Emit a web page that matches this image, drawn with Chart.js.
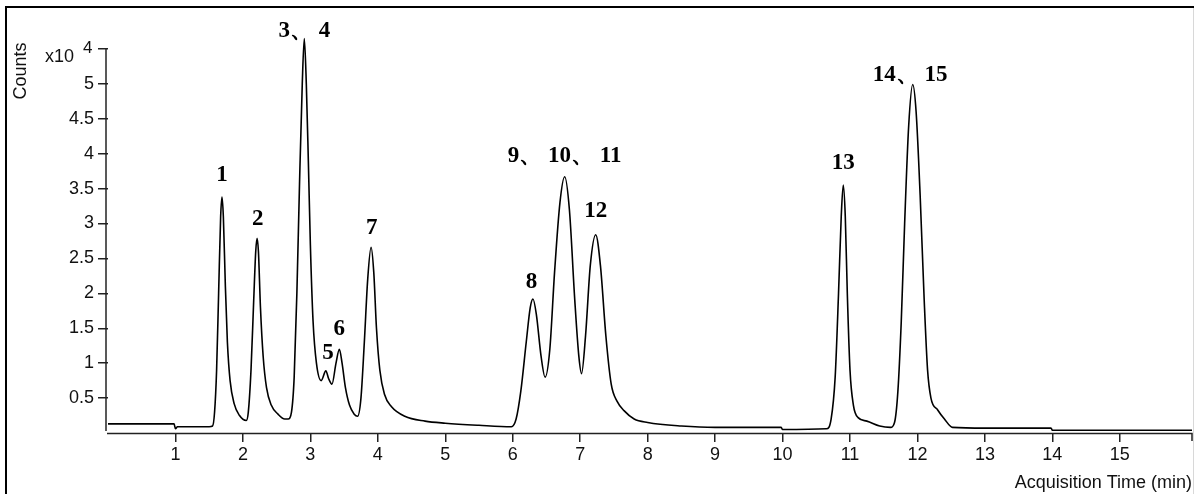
<!DOCTYPE html>
<html>
<head>
<meta charset="utf-8">
<script src="https://cdn.jsdelivr.net/npm/chart.js@4.4.1/dist/chart.umd.min.js"></script>
<style>
  html, body { margin: 0; padding: 0; background: #fff; }
  #wrap { position: relative; width: 1195px; height: 494px; }
</style>
</head>
<body>
<div id="wrap"><canvas id="chrom" width="1195" height="494"></canvas></div>
<script>
// retention time (min) and counts (x10^4)
const times = [
  0, 0.98, 1.0, 1.03, 1.5,
  1.55, 1.58, 1.61, 1.64, 1.67, 1.69, 1.71, 1.74, 1.77, 1.81, 1.87, 1.95, 2.05,
  2.08, 2.12, 2.16, 2.19, 2.21, 2.23, 2.26, 2.30, 2.35, 2.42, 2.52, 2.62, 2.67,
  2.72, 2.76, 2.80, 2.84, 2.88, 2.91, 2.94, 2.97, 3.00, 3.04, 3.09, 3.16,
  3.23, 3.27, 3.32, 3.38, 3.43, 3.47, 3.52, 3.58, 3.65, 3.70,
  3.75, 3.80, 3.85, 3.90, 3.94, 3.98, 4.03, 4.10, 4.2, 4.4, 4.7, 5.0, 5.5, 5.98,
  6.05, 6.12, 6.20, 6.26, 6.30, 6.35, 6.42, 6.48, 6.55, 6.62, 6.70, 6.77, 6.84,
  6.92, 6.98, 7.02, 7.08, 7.15, 7.23, 7.30, 7.38, 7.46, 7.55, 7.65, 7.8, 8.0,
  8.5, 9.0, 9.98, 10.0, 10.65,
  10.72, 10.78, 10.83, 10.87, 10.90, 10.93, 10.96, 11.0, 11.05, 11.12, 11.25, 11.44, 11.6,
  11.66, 11.71, 11.76, 11.81, 11.87, 11.93, 11.98, 12.04, 12.10, 12.15, 12.20, 12.30, 12.40,
  12.52, 13.0, 13.98, 14.0, 16.07
];
const counts = [
  0.13, 0.13, 0.06, 0.09, 0.09,
  0.10, 0.3, 0.9, 2.0, 3.1, 3.38, 3.1, 2.1, 1.3, 0.75, 0.42, 0.25, 0.18,
  0.3, 0.9, 1.9, 2.6, 2.79, 2.6, 1.8, 1.1, 0.65, 0.4, 0.27, 0.2, 0.2,
  0.3, 0.8, 2.0, 3.6, 5.0, 5.65, 5.0, 3.9, 2.7, 1.6, 1.0, 0.75,
  0.89, 0.78, 0.70, 1.0, 1.2, 1.0, 0.65, 0.4, 0.27, 0.24,
  0.5, 1.3, 2.2, 2.66, 2.3, 1.5, 0.9, 0.55, 0.38, 0.24, 0.17, 0.14, 0.11, 0.09,
  0.2, 0.6, 1.3, 1.8, 1.92, 1.7, 1.1, 0.80, 1.2, 2.3, 3.3, 3.67, 3.2,
  1.9, 1.1, 0.85, 1.4, 2.4, 2.84, 2.4, 1.4, 0.7, 0.45, 0.32, 0.2, 0.15,
  0.1, 0.08, 0.08, 0.05, 0.06,
  0.2, 0.8, 2.0, 3.1, 3.55, 3.1, 2.0, 0.9, 0.4, 0.22, 0.17, 0.10, 0.08,
  0.15, 0.6, 1.6, 3.0, 4.4, 4.99, 4.6, 3.4, 1.9, 0.9, 0.5, 0.33, 0.2,
  0.08, 0.07, 0.07, 0.04, 0.04
];

// tick values
const xTicks = [1, 2, 3, 4, 5, 6, 7, 8, 9, 10, 11, 12, 13, 14, 15];
const yTicks = [0.5, 1, 1.5, 2, 2.5, 3, 3.5, 4, 4.5, 5, 5.5];

// peak labels and where they sit (time, counts)
const peakNames = ['1', '2', '3、 4', '5', '6', '7', '8', '9、 10、 11', '12', '13', '14、 15'];
const peakTimes = [1.69, 2.22, 2.91, 3.26, 3.43, 3.91, 6.28, 6.77, 7.23, 10.90, 11.89];
const peakLabelY = [3.69, 3.07, 5.75, 1.15, 1.49, 2.93, 2.16, 3.97, 3.18, 3.87, 5.13];

const sans = 'Arial, "Liberation Sans", sans-serif';

const decorations = {
  id: 'decorations',
  afterDraw(chart) {
    const { ctx } = chart;
    const x = chart.scales.x, y = chart.scales.y;
    ctx.save();

    // frame
    ctx.strokeStyle = '#000';
    ctx.lineWidth = 2;
    ctx.beginPath();
    ctx.moveTo(6, 494);
    ctx.lineTo(6, 7);
    ctx.lineTo(1194, 7);
    ctx.stroke();
    ctx.strokeStyle = '#d8d8d8';
    ctx.lineWidth = 1;
    ctx.beginPath();
    ctx.moveTo(1193.5, 8);
    ctx.lineTo(1193.5, 494);
    ctx.stroke();

    // axis lines
    ctx.strokeStyle = '#222';
    ctx.lineWidth = 1.5;
    ctx.beginPath();
    ctx.moveTo(x.left - 2, y.getPixelForValue(5.5));
    ctx.lineTo(x.left - 2, y.bottom - 2);
    ctx.stroke();
    ctx.beginPath();
    ctx.moveTo(x.left - 1, y.bottom + 0.5);
    ctx.lineTo(x.right, y.bottom + 0.5);
    ctx.lineTo(x.right, y.bottom + 8);
    ctx.stroke();

    // y title and multiplier
    ctx.fillStyle = '#111';
    ctx.font = '18px ' + sans;
    ctx.textAlign = 'center';
    ctx.textBaseline = 'middle';
    ctx.save();
    ctx.translate(21, 71);
    ctx.rotate(-Math.PI / 2);
    ctx.fillText('Counts', 0, 0);
    ctx.restore();
    ctx.textAlign = 'left';
    ctx.fillText('x10', 45, 57);
    ctx.font = '17px ' + sans;
    ctx.fillText('4', 83, 48);

    // peak labels
    ctx.fillStyle = '#000';
    ctx.font = 'bold 23px "Liberation Serif", "Times New Roman", serif';
    ctx.textAlign = 'center';
    peakNames.forEach((name, i) => {
      ctx.fillText(name, x.getPixelForValue(peakTimes[i]), y.getPixelForValue(peakLabelY[i]));
    });
    ctx.restore();
  }
};

new Chart(document.getElementById('chrom'), {
  type: 'line',
  data: {
    labels: times,
    datasets: [{
      data: times.map((t, i) => ({ x: t, y: counts[i] })),
      borderColor: '#000',
      borderWidth: 1.6,
      pointRadius: 0,
      fill: false,
      cubicInterpolationMode: 'monotone'
    }]
  },
  options: {
    responsive: false,
    animation: false,
    events: [],
    layout: { padding: { left: 0, right: 3, top: 28, bottom: 0 } },
    plugins: { legend: { display: false }, tooltip: { enabled: false } },
    scales: {
      x: {
        type: 'linear',
        min: 0,
        max: 16.07,
        afterBuildTicks: (axis) => { axis.ticks = xTicks.map(v => ({ value: v })); },
        afterFit: (axis) => { axis.height = 61; },
        grid: { display: true, drawOnChartArea: false, drawTicks: true, tickLength: 9, color: '#222', lineWidth: 1.5 },
        border: { display: false },
        ticks: { color: '#111', font: { size: 18, family: sans }, padding: 2, maxRotation: 0, autoSkip: false },
        title: { display: true, text: 'Acquisition Time (min)', align: 'end', color: '#111', font: { size: 18, family: sans }, padding: { top: 2, bottom: 0 } }
      },
      y: {
        min: 0,
        max: 5.8,
        afterBuildTicks: (axis) => { axis.ticks = yTicks.map(v => ({ value: v })); },
        afterFit: (axis) => { axis.width = 108; },
        grid: { display: true, drawOnChartArea: false, drawTicks: true, tickLength: 10, color: '#222', lineWidth: 1.5 },
        border: { display: false },
        ticks: {
          color: '#111',
          font: { size: 18, family: sans },
          padding: 4,
          callback: (v) => (v === 5.5 ? '' : String(v))
        }
      }
    }
  },
  plugins: [decorations]
});
</script>
</body>
</html>
